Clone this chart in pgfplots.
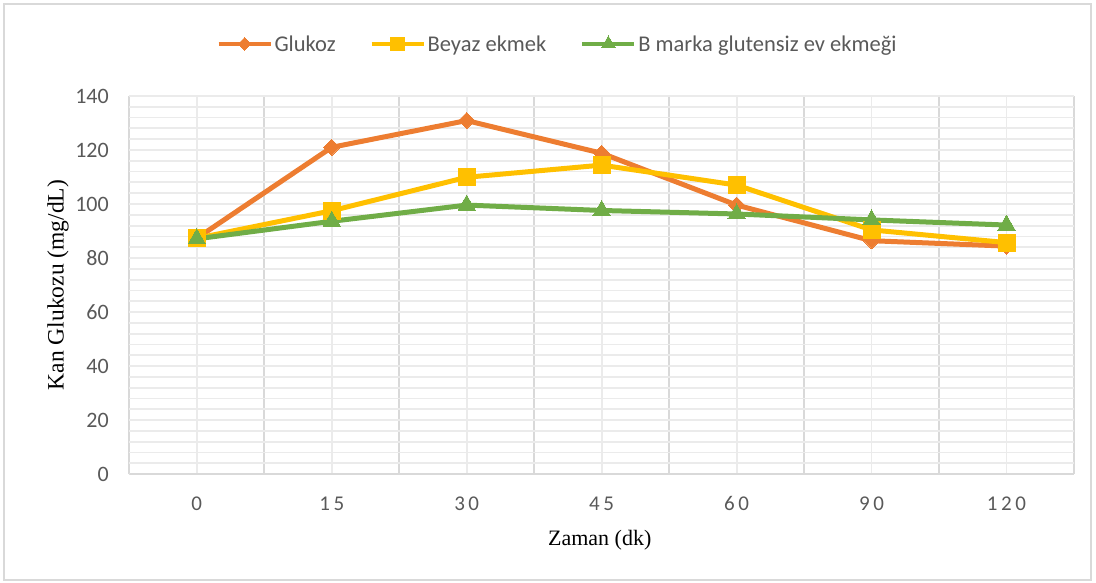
\documentclass[border=0pt]{standalone}
\usepackage{pgfplots}
\pgfplotsset{compat=1.18}
\usepackage{fontspec}
\setmainfont{Carlito}
\newfontfamily\serifA{Liberation Serif}
\newfontfamily\spaced[LetterSpace=17]{Carlito}
\definecolor{cGlu}{HTML}{ED7D31}
\definecolor{cBey}{HTML}{FFC000}
\definecolor{cGre}{HTML}{70AD47}
\definecolor{tickgray}{HTML}{595959}
\definecolor{gridA}{HTML}{EBEBEB}
\definecolor{gridB}{HTML}{D9D9D9}
\begin{document}
\begin{tikzpicture}[x=1pt,y=1pt]
\useasboundingbox (0,0) rectangle (1096,582);
\draw[gridB, line width=1.5pt] (4,2) rectangle (1091,578);
\begin{axis}[
  at={(129.3pt,108pt)}, anchor=south west,
  scale only axis, width=944.7pt, height=378pt,
  xmin=-0.5, xmax=6.5, ymin=0, ymax=140,
  xtick={0,...,6},
  xticklabels={0,15,30,45,60,90,120},
  minor xtick={-0.5,0.5,...,6.5},
  ytick={0,20,...,140},
  minor y tick num=4,
  major tick length=0pt, minor tick length=0pt,
  xmajorgrids, xminorgrids, ymajorgrids, yminorgrids,
  major x grid style={gridA, line width=1.8pt},
  minor x grid style={gridB, line width=1.8pt},
  major y grid style={gridA, line width=1.8pt},
  minor y grid style={gridA, line width=1.8pt},
  axis line style={draw=none},
  /pgf/number format/assume math mode=true,
  yticklabel style={font=\fontsize{22}{24}\selectfont, text=tickgray, xshift=-17pt},
  xticklabel style={font=\spaced\fontsize{21}{23}\selectfont, text=tickgray, yshift=-19pt},
  xlabel={Zaman (dk)},
  ylabel={Kan Glukozu (mg/dL)},
  xlabel style={font=\serifA\fontsize{22}{24}\selectfont, at={(axis description cs:0.498,-0.1746)}, anchor=center},
  ylabel style={font=\serifA\fontsize{23.5}{25}\selectfont, at={(axis description cs:-0.0755,0.5)}, anchor=center},
  legend columns=3,
  legend style={at={(axis description cs:0.4533,1.1376)}, anchor=center, draw=none, fill=none,
    font=\fontsize{22.5}{24}\selectfont, text=tickgray,
    nodes={inner sep=2pt},
    /tikz/every even column/.append style={column sep=32pt}},
  legend image code/.code={\draw[line width=4pt, mark repeat=2, mark phase=2, /tikz/every mark/.append style={scale=0.8}] plot coordinates {(0pt,0pt) (26pt,0pt) (52pt,0pt)};},
]
\addplot[cGlu, line width=5pt, mark=square*, mark size=5.7pt, mark options={line width=0pt, fill=cGlu, rotate=45}]
  coordinates {(0,87.3) (1,121) (2,130.9) (3,118.8) (4,99.6) (5,86.4) (6,84.4)};
\addlegendentry{Glukoz}
\addplot[cBey, line width=5pt, mark=square*, mark size=8.5pt, mark options={line width=0pt, fill=cBey}]
  coordinates {(0,87.3) (1,97.5) (2,109.9) (3,114.4) (4,107) (5,90.4) (6,85.7)};
\addlegendentry{Beyaz ekmek}
\addplot[cGre, line width=5pt, mark=triangle*, mark size=10pt, mark options={line width=0pt, fill=cGre}]
  coordinates {(0,87.1) (1,93.6) (2,99.6) (3,97.6) (4,96.3) (5,94.1) (6,92.2)};
\addlegendentry{B marka glutensiz ev ekmeği}
\draw[gridB, line width=1.8pt] (axis cs:-0.5,0) -- (axis cs:6.5,0);
\end{axis}
\end{tikzpicture}
\end{document}
